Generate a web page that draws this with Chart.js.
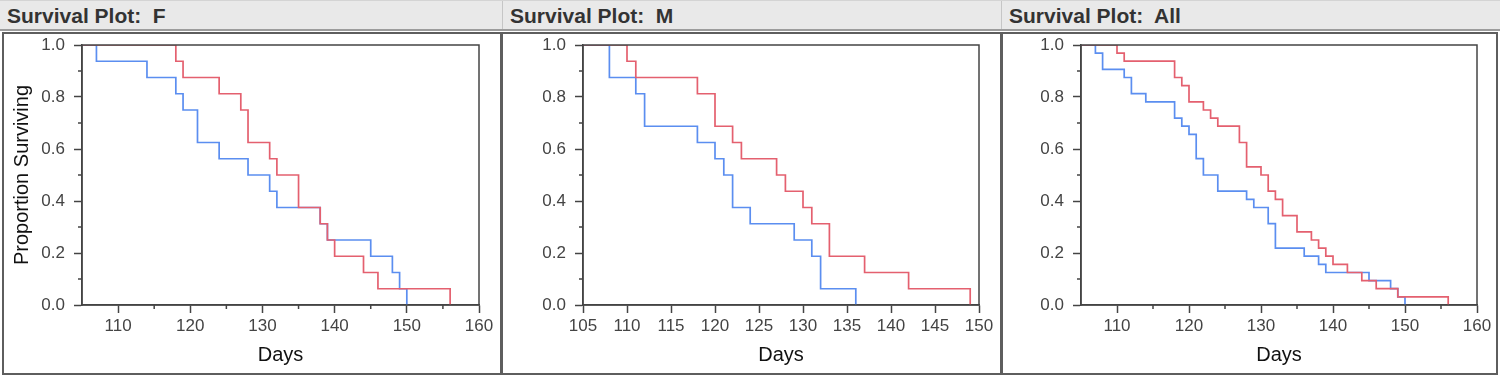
<!DOCTYPE html>
<html>
<head>
<meta charset="utf-8">
<script src="https://cdn.jsdelivr.net/npm/chart.js@4.4.1/dist/chart.umd.min.js"></script>
<style>
body { margin:0; width:1500px; height:377px; background:#fff; font-family:"Liberation Sans", Arial, sans-serif; overflow:hidden; position:relative; }
#header { position:absolute; left:0; top:0; width:1500px; height:31px; background:#e9e9e9; border-top:1px solid #d4d4d4; border-bottom:2px solid #9c9c9c; box-sizing:border-box; }
.hd { position:absolute; top:0; height:28px; line-height:30px; font-weight:bold; font-size:21px; color:#333; padding-left:7px; border-left:1px solid #c6c6c6; box-sizing:border-box; white-space:pre; }
.panel { position:absolute; top:32px; height:343px; border:2px solid #5e5e5e; box-sizing:border-box; }
canvas { position:absolute; top:35px; }
</style>
</head>
<body>
<div id="header">
  <div class="hd" style="left:0;width:502px;border-left:none">Survival Plot:  F</div>
  <div class="hd" style="left:502px;width:499px">Survival Plot:  M</div>
  <div class="hd" style="left:1001px;width:499px">Survival Plot:  All</div>
</div>
<div class="panel" style="left:2px;width:500px"></div>
<div class="panel" style="left:501px;width:501px"></div>
<div class="panel" style="left:1001px;width:497px"></div>
<canvas id="chartF" width="490" height="337" style="left:5px"></canvas>
<canvas id="chartM" width="490" height="337" style="left:505px"></canvas>
<canvas id="chartAll" width="490" height="337" style="left:1003px"></canvas>
<script>
// eixos
const survTicks = [0, 0.2, 0.4, 0.6, 0.8, 1.0];
const survMinor = [0.1, 0.3, 0.5, 0.7, 0.9];
const daysTicks10 = [110, 120, 130, 140, 150, 160];
const daysMinor10 = [115, 125, 135, 145, 155];
const daysTicks5 = [105, 110, 115, 120, 125, 130, 135, 140, 145, 150];

// F
const fBlueDays = [105, 107, 114, 118, 119, 121, 124, 128, 131, 132, 138, 139, 145, 148, 149, 150];
const fBlueSurv = [1, 0.9375, 0.875, 0.8125, 0.75, 0.625, 0.5625, 0.5, 0.4375, 0.375, 0.3125, 0.25, 0.1875, 0.125, 0.0625, 0];
const fRedDays = [105, 118, 119, 124, 127, 128, 131, 132, 135, 138, 139, 140, 144, 146, 156];
const fRedSurv = [1, 0.9375, 0.875, 0.8125, 0.75, 0.625, 0.5625, 0.5, 0.375, 0.3125, 0.25, 0.1875, 0.125, 0.0625, 0];

// M
const mBlueDays = [105, 108, 111, 112, 118, 120, 121, 122, 124, 129, 131, 132, 136];
const mBlueSurv = [1, 0.875, 0.8125, 0.6875, 0.625, 0.5625, 0.5, 0.375, 0.3125, 0.25, 0.1875, 0.0625, 0];
const mRedDays = [105, 110, 111, 118, 120, 122, 123, 127, 128, 130, 131, 133, 137, 142, 149];
const mRedSurv = [1, 0.9375, 0.875, 0.8125, 0.6875, 0.625, 0.5625, 0.5, 0.4375, 0.375, 0.3125, 0.1875, 0.125, 0.0625, 0];

// All
const allBlueDays = [105, 107, 108, 111, 112, 114, 118, 119, 120, 121, 122, 124, 128, 129, 131, 132, 136, 138, 139, 145, 148, 149, 150];
const allBlueSurv = [1, 0.969, 0.906, 0.875, 0.813, 0.781, 0.719, 0.688, 0.656, 0.563, 0.5, 0.438, 0.406, 0.375, 0.313, 0.219, 0.188, 0.156, 0.125, 0.094, 0.063, 0.031, 0];
const allRedDays = [105, 110, 111, 118, 119, 120, 122, 123, 124, 127, 128, 130, 131, 132, 133, 135, 137, 138, 139, 140, 142, 144, 146, 149, 156];
const allRedSurv = [1, 0.969, 0.938, 0.875, 0.844, 0.781, 0.75, 0.719, 0.688, 0.625, 0.531, 0.5, 0.438, 0.406, 0.344, 0.281, 0.25, 0.219, 0.188, 0.156, 0.125, 0.094, 0.063, 0.031, 0];

const BLUE = '#5b8ef0';
const RED = '#e4606f';
const AXIS = '#444';

// moldura do gráfico + ticks menores
const frameMinor = {
    id: 'frameMinor',
    afterDatasetsDraw(chart, args, opts) {
        const { ctx, chartArea: a, scales } = chart;
        ctx.save();
        ctx.strokeStyle = AXIS;
        ctx.lineWidth = 1.5;
        ctx.strokeRect(a.left, a.top, a.width, a.height);
        ctx.beginPath();
        (opts.x || []).forEach(v => {
            const px = scales.x.getPixelForValue(v);
            ctx.moveTo(px, a.bottom);
            ctx.lineTo(px, a.bottom + 4);
        });
        (opts.y || []).forEach(v => {
            const py = scales.y.getPixelForValue(v);
            ctx.moveTo(a.left, py);
            ctx.lineTo(a.left - 4, py);
        });
        ctx.stroke();
        ctx.restore();
    }
};

function pontos(days, surv) {
    return days.map((d, i) => ({ x: d, y: surv[i] }));
}

function criarGrafico(id, cfg) {
    const ctx = document.getElementById(id).getContext('2d');
    new Chart(ctx, {
        type: 'line',
        data: {
            datasets: [
                { data: pontos(cfg.redDays, cfg.redSurv), borderColor: RED, borderWidth: 1.7, stepped: 'before', pointRadius: 0, fill: false },
                { data: pontos(cfg.blueDays, cfg.blueSurv), borderColor: BLUE, borderWidth: 1.7, stepped: 'before', pointRadius: 0, fill: false }
            ]
        },
        options: {
            responsive: false,
            animation: false,
            events: [],
            layout: { padding: { top: 10, right: 16, left: 0, bottom: 0 } },
            plugins: {
                legend: { display: false },
                tooltip: { enabled: false },
                frameMinor: { x: cfg.xMinor, y: survMinor }
            },
            scales: {
                x: {
                    type: 'linear',
                    min: cfg.xMin,
                    max: cfg.xMax,
                    afterBuildTicks: s => { s.ticks = cfg.xTicks.map(v => ({ value: v })); },
                    afterFit: s => { s.height = 67; s.paddingLeft = 0; s.paddingRight = 0; },
                    grid: { drawOnChartArea: false, tickLength: 8, tickColor: AXIS, tickWidth: 1.5 },
                    border: { color: AXIS, width: 1.5 },
                    ticks: { color: '#444', font: { size: 17 }, padding: 3, maxRotation: 0, autoSkip: false },
                    title: { display: true, text: 'Days', color: '#111', font: { size: 20 }, padding: { top: 0, bottom: 5 } }
                },
                y: {
                    min: 0,
                    max: 1,
                    afterBuildTicks: s => { s.ticks = survTicks.map(v => ({ value: v })); },
                    afterFit: s => { s.width = cfg.yWidth; s.paddingTop = 0; s.paddingBottom = 0; },
                    grid: { drawOnChartArea: false, tickLength: 8, tickColor: AXIS, tickWidth: 1.5 },
                    border: { color: AXIS, width: 1.5 },
                    ticks: { color: '#444', font: { size: 17 }, padding: 9, callback: v => v.toFixed(1) },
                    title: { display: cfg.yTitle, text: 'Proportion Surviving', color: '#111', font: { size: 20 }, padding: { top: 5, bottom: 0 } }
                }
            }
        },
        plugins: [frameMinor]
    });
}

Chart.defaults.font.family = '"Liberation Sans", Arial, sans-serif';

criarGrafico('chartF', {
    blueDays: fBlueDays, blueSurv: fBlueSurv, redDays: fRedDays, redSurv: fRedSurv,
    xMin: 105, xMax: 160, xTicks: daysTicks10, xMinor: daysMinor10, yWidth: 77, yTitle: true
});
criarGrafico('chartM', {
    blueDays: mBlueDays, blueSurv: mBlueSurv, redDays: mRedDays, redSurv: mRedSurv,
    xMin: 105, xMax: 150, xTicks: daysTicks5, xMinor: [], yWidth: 78, yTitle: false
});
criarGrafico('chartAll', {
    blueDays: allBlueDays, blueSurv: allBlueSurv, redDays: allRedDays, redSurv: allRedSurv,
    xMin: 105, xMax: 160, xTicks: daysTicks10, xMinor: daysMinor10, yWidth: 78, yTitle: false
});
</script>
</body>
</html>
